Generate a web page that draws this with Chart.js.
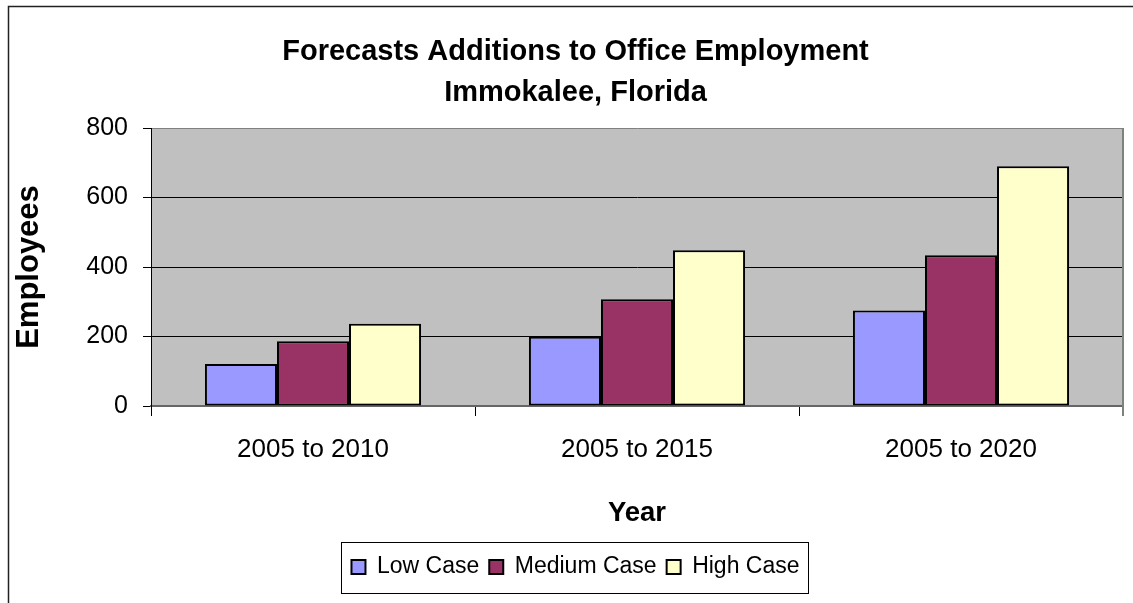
<!DOCTYPE html>
<html>
<head>
<meta charset="utf-8">
<style>
  html, body { margin: 0; padding: 0; background: #ffffff; }
  #wrap { width: 1133px; height: 603px; }
</style>
<script src="https://cdn.jsdelivr.net/npm/chart.js@4.4.0/dist/chart.umd.min.js"></script>
</head>
<body>
<div id="wrap"><canvas id="c" width="1133" height="603"></canvas></div>
<script>
const categories = ["2005 to 2010", "2005 to 2015", "2005 to 2020"];
const lowCase = [121, 199, 275];
const mediumCase = [186, 307, 434];
const highCase = [237, 448, 690];
const yTicks = [0, 200, 400, 600, 800];
const titleLines = ["Forecasts Additions to Office Employment", "Immokalee, Florida"];

const FONT = "'Liberation Sans', Arial, Helvetica, sans-serif";

const framePlugin = {
  id: 'frame',
  beforeDraw(chart) {
    const { ctx, chartArea } = chart;
    ctx.save();
    ctx.fillStyle = '#ffffff';
    ctx.fillRect(0, 0, chart.width, chart.height);
    ctx.fillStyle = '#C0C0C0';
    ctx.fillRect(chartArea.left, chartArea.top, chartArea.right - chartArea.left, chartArea.bottom - chartArea.top);
    ctx.restore();
  },
  afterDraw(chart) {
    const { ctx, chartArea } = chart;
    ctx.save();
    ctx.strokeStyle = '#222';
    ctx.lineWidth = 1.5;
    ctx.beginPath();
    ctx.moveTo(8.5, chart.height);
    ctx.lineTo(8.5, 6.5);
    ctx.lineTo(chart.width, 6.5);
    ctx.stroke();
    ctx.strokeStyle = '#808080';
    ctx.lineWidth = 2;
    ctx.beginPath();
    ctx.moveTo(chartArea.right, chartArea.top);
    ctx.lineTo(chartArea.right, chartArea.bottom + 10);
    ctx.stroke();
    const lg = chart.legend;
    if (lg && lg.legendHitBoxes && lg.legendHitBoxes.length) {
      const hb = lg.legendHitBoxes;
      const first = hb[0], last = hb[hb.length - 1];
      const l = first.left - 10;
      const r = last.left + last.width + 9;
      const t = first.top - 14;
      const b = first.top + first.height + 14;
      ctx.strokeStyle = '#000';
      ctx.lineWidth = 1;
      ctx.strokeRect(Math.round(l) + 0.5, Math.round(t) + 0.5, Math.round(r - l), Math.round(b - t));
    }
    ctx.restore();
  }
};

new Chart(document.getElementById('c'), {
  type: 'bar',
  data: {
    labels: categories,
    datasets: [
      { label: 'Low Case', data: lowCase, backgroundColor: '#9999FF', borderColor: '#000', borderWidth: 2 },
      { label: 'Medium Case', data: mediumCase, backgroundColor: '#993366', borderColor: '#000', borderWidth: 2 },
      { label: 'High Case', data: highCase, backgroundColor: '#FFFFCC', borderColor: '#000', borderWidth: 2 }
    ]
  },
  options: {
    responsive: false,
    animation: false,
    devicePixelRatio: 1,
    layout: { padding: { left: 28, right: 10, top: 0, bottom: 14.5 } },
    datasets: { bar: { categoryPercentage: 0.667, barPercentage: 1.0, borderSkipped: false } },
    plugins: {
      tooltip: { enabled: false },
      title: {
        display: true,
        text: titleLines,
        color: '#000',
        font: { family: FONT, size: 29, weight: 'bold', lineHeight: 41 / 29 },
        padding: { top: 31, bottom: 15 }
      },
      legend: {
        position: 'bottom',
        labels: {
          color: '#000',
          font: { family: FONT, size: 23 },
          boxWidth: 14,
          boxHeight: 14,
          padding: 10
        }
      }
    },
    scales: {
      x: {
        grid: { drawOnChartArea: false, drawTicks: true, tickLength: 10, color: '#000', offset: true },
        border: { color: '#666', width: 2 },
        ticks: { color: '#000', font: { family: FONT, size: 26 }, padding: 18, maxRotation: 0 },
        title: {
          display: true, text: 'Year', color: '#000',
          font: { family: FONT, size: 27.5, weight: 'bold' },
          padding: { top: 32, bottom: 15.5 }
        },
        afterFit(scale) { scale.height = 139.5; }
      },
      y: {
        min: 0, max: 800,
        afterBuildTicks(scale) { scale.ticks = yTicks.map(v => ({ value: v })); },
        grid: {
          color: (c) => (c.tick && c.tick.value === 800) ? '#808080' : '#000',
          lineWidth: 1,
          tickLength: 8,
          tickColor: '#000'
        },
        border: { color: '#000', width: 1 },
        ticks: { color: '#000', font: { family: FONT, size: 25 }, padding: 15 },
        title: {
          display: true, text: 'Employees', color: '#000',
          font: { family: FONT, size: 31, weight: 'bold' },
          padding: { top: -17.6, bottom: 0 }
        },
        afterFit(scale) { scale.width = 123; }
      }
    }
  },
  plugins: [framePlugin]
});
</script>
</body>
</html>
